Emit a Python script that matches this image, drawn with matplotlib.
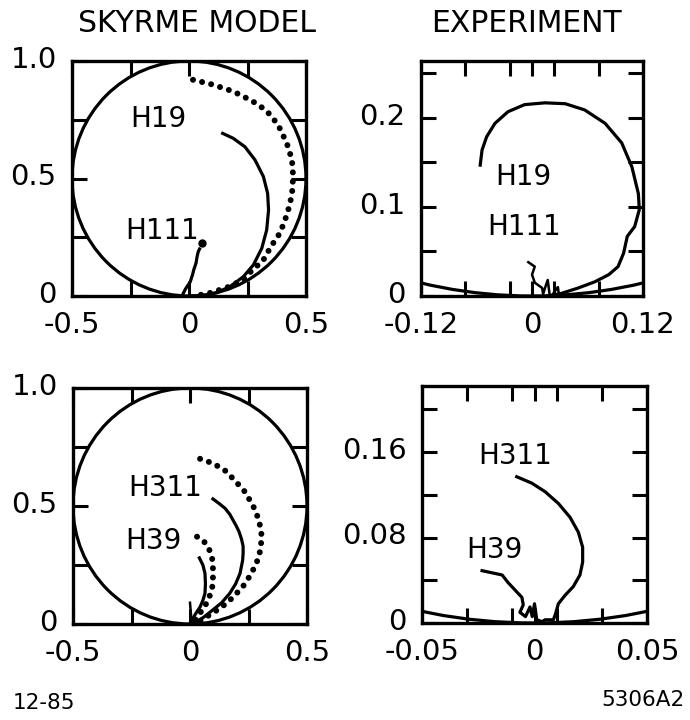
import matplotlib
matplotlib.use("Agg")
import matplotlib.pyplot as plt
from matplotlib.patches import Circle
from matplotlib.transforms import ScaledTranslation

# --- Skyrme model, H19 / H111 (Argand plane) ---
h19_model_x = [0.144, 0.189, 0.239, 0.282, 0.318, 0.336, 0.340, 0.332, 0.311, 0.275,
               0.232, 0.175, 0.118, 0.061, 0.004]
h19_model_y = [0.692, 0.671, 0.635, 0.579, 0.508, 0.437, 0.366, 0.281, 0.203, 0.132,
               0.082, 0.040, 0.014, 0.001, 0.0]
h19_dot_x = [0.017, 0.10, 0.19, 0.27, 0.33, 0.38, 0.418, 0.44, 0.445, 0.44, 0.42, 0.39,
             0.35, 0.316, 0.27, 0.23, 0.16, 0.08, 0.02]
h19_dot_y = [0.92, 0.90, 0.87, 0.83, 0.79, 0.73, 0.65, 0.58, 0.51, 0.43, 0.35, 0.27,
             0.21, 0.15, 0.11, 0.068, 0.035, 0.01, 0.0]
h111_model_x = [-0.03, -0.015, 0.005, 0.015, 0.02, 0.03, 0.035, 0.04, 0.045]
h111_model_y = [0.0, 0.03, 0.06, 0.09, 0.11, 0.14, 0.17, 0.19, 0.20]
h111_end = (0.055, 0.225)

# --- experiment, H19 / H111 ---
h19_exp_x = [-0.056, -0.054, -0.049, -0.040, -0.026, -0.008, 0.014, 0.036, 0.057, 0.079,
             0.097, 0.108, 0.115, 0.116, 0.111, 0.103, 0.099, 0.093, 0.083, 0.068, 0.050,
             0.032, 0.018]
h19_exp_y = [0.147, 0.164, 0.179, 0.194, 0.207, 0.215, 0.217, 0.216, 0.209, 0.194,
             0.172, 0.145, 0.115, 0.097, 0.078, 0.067, 0.048, 0.033, 0.024, 0.016, 0.009,
             0.003, 0.0]
h111_exp_x = [-0.004, 0.003, 0.0, 0.003, 0.011, 0.012, 0.015, 0.017, 0.019, 0.021, 0.028, 0.029]
h111_exp_y = [0.038, 0.033, 0.024, 0.015, 0.009, 0.002, 0.012, 0.018, 0.002, 0.0, 0.01, 0.002]

# --- Skyrme model, H311 / H39 ---
h311_dot_x = [0.043, 0.10, 0.15, 0.19, 0.235, 0.27, 0.295, 0.307, 0.30, 0.285, 0.26, 0.227,
              0.19, 0.158, 0.11, 0.07, 0.03]
h311_dot_y = [0.70, 0.68, 0.65, 0.61, 0.56, 0.50, 0.44, 0.37, 0.31, 0.26, 0.21, 0.16,
              0.12, 0.089, 0.055, 0.03, 0.005]
h311_model_x = [0.098, 0.125, 0.15, 0.17, 0.184, 0.198, 0.21, 0.22, 0.227, 0.227, 0.225,
                0.214, 0.195, 0.17, 0.135, 0.098, 0.06, 0.03, 0.0]
h311_model_y = [0.53, 0.51, 0.49, 0.465, 0.44, 0.415, 0.39, 0.36, 0.33, 0.30, 0.27,
                0.215, 0.17, 0.13, 0.09, 0.06, 0.03, 0.01, 0.0]
h39_dot_x = [0.03, 0.06, 0.085, 0.095, 0.098, 0.098, 0.09, 0.077, 0.06, 0.043, 0.02]
h39_dot_y = [0.37, 0.35, 0.31, 0.275, 0.24, 0.17, 0.135, 0.10, 0.07, 0.047, 0.015]
h39_model_x = [0.04, 0.055, 0.064, 0.066, 0.064, 0.055, 0.043, 0.025, 0.013, 0.0]
h39_model_y = [0.28, 0.25, 0.215, 0.17, 0.13, 0.10, 0.072, 0.045, 0.025, 0.0]
h39_stroke_x = [0.0, 0.005]
h39_stroke_y = [0.09, 0.03]

# --- experiment, H311 / H39 ---
h311_exp_x = [-0.0079, -0.0012, 0.0047, 0.0106, 0.0158, 0.0195, 0.0214, 0.0214, 0.0202,
              0.0172, 0.0136, 0.0106, 0.0094, 0.0084, 0.0047, 0.0024]
h311_exp_y = [0.137, 0.131, 0.123, 0.112, 0.099, 0.085, 0.071, 0.057, 0.045,
              0.034, 0.026, 0.018, 0.009, 0.003, 0.003, 0.0]
h39_exp_x = [-0.0233, -0.0144, -0.0118, -0.0087, -0.0056, -0.005, -0.0065, -0.004, -0.002,
             -0.001, 0.0, 0.001, 0.0024]
h39_exp_y = [0.049, 0.045, 0.038, 0.031, 0.024, 0.017, 0.010, 0.006, 0.015, 0.006, 0.018,
             0.003, 0.002]

# unitarity circles (centre y, radius)
circle_model = (0.5, 0.5)
circle_exp_top = (0.5, 0.5)
circle_exp_bot = (0.12, 0.12)

LW = 2.3
DOTS = dict(lw=4.3, linestyle=(0, (0.01, 1.55)), dash_capstyle="round", color="black")

plt.rcParams["font.family"] = "DejaVu Sans"

fig = plt.figure(figsize=(6.9, 7.2), dpi=100)
ax1 = fig.add_axes([72 / 690, 1 - 296 / 720, 234 / 690, 235 / 720])
ax2 = fig.add_axes([421 / 690, 1 - 296 / 720, 222 / 690, 235 / 720])
ax3 = fig.add_axes([73 / 690, 1 - 624 / 720, 234 / 690, 236 / 720])
ax4 = fig.add_axes([422 / 690, 1 - 623 / 720, 225 / 690, 237 / 720])

lift = ScaledTranslation(0, 3 / 72, fig.dpi_scale_trans)


def style(ax, xlim, ylim, xt, xl, xm, yt, yl, ym):
    ax.set_xlim(xlim)
    ax.set_ylim(ylim)
    ax.set_xticks(xt, xl)
    ax.set_xticks(xm, minor=True)
    ax.set_yticks(yt, yl)
    ax.set_yticks(ym, minor=True)
    ax.tick_params(which="both", direction="in", top=True, right=True,
                   length=11, width=2.2, labelsize=21)
    ax.tick_params(axis="x", pad=11)
    ax.tick_params(axis="y", pad=11)
    for lab in ax.get_yticklabels():
        lab.set_transform(lab.get_transform() + lift)
    for s in ax.spines.values():
        s.set_linewidth(2.4)


def circ(ax, c):
    ax.add_patch(Circle((0, c[0]), c[1], fill=False, lw=LW, color="black"))


LBL = dict(fontsize=20, ha="center", va="center")

# top left
circ(ax1, circle_model)
ax1.plot(h19_model_x, h19_model_y, color="black", lw=LW)
ax1.plot(h19_dot_x, h19_dot_y, **DOTS)
ax1.plot(h111_model_x, h111_model_y, color="black", lw=LW)
ax1.plot(*h111_end, "o", color="black", ms=5)
ax1.text(-0.132, 0.753, "H19", **LBL)
ax1.text(-0.115, 0.277, "H111", **LBL)
style(ax1, (-0.5, 0.5), (0, 1.0), [-0.5, 0, 0.5], ["-0.5", "0", "0.5"], [-0.25, 0.25],
      [0, 0.5, 1.0], ["0", "0.5", "1.0"], [0.25, 0.75])

# top right
circ(ax2, circle_exp_top)
ax2.plot(h19_exp_x, h19_exp_y, color="black", lw=LW)
ax2.plot(h111_exp_x, h111_exp_y, color="black", lw=1.8)
ax2.text(-0.0097, 0.134, "H19", **LBL)
ax2.text(-0.0086, 0.0775, "H111", **LBL)
style(ax2, (-0.12, 0.12), (0, 0.264), [-0.12, 0, 0.12], ["-0.12", "0", "0.12"],
      [-0.072, -0.024, 0.024, 0.072],
      [0, 0.1, 0.2], ["0", "0.1", "0.2"], [0.05, 0.15, 0.25])

# bottom left
circ(ax3, circle_model)
ax3.plot(h311_dot_x, h311_dot_y, **DOTS)
ax3.plot(h311_model_x, h311_model_y, color="black", lw=LW)
ax3.plot(h39_dot_x, h39_dot_y, **DOTS)
ax3.plot(h39_model_x, h39_model_y, color="black", lw=LW)
ax3.plot(h39_stroke_x, h39_stroke_y, color="black", lw=1.8)
ax3.text(-0.107, 0.576, "H311", **LBL)
ax3.text(-0.156, 0.352, "H39", **LBL)
style(ax3, (-0.5, 0.5), (0, 1.0), [-0.5, 0, 0.5], ["-0.5", "0", "0.5"], [-0.25, 0.25],
      [0, 0.5, 1.0], ["0", "0.5", "1.0"], [0.25, 0.75])

# bottom right
circ(ax4, circle_exp_bot)
ax4.plot(h311_exp_x, h311_exp_y, color="black", lw=LW)
ax4.plot(h39_exp_x, h39_exp_y, color="black", lw=LW)
ax4.text(-0.0084, 0.156, "H311", **LBL)
ax4.text(-0.0176, 0.068, "H39", **LBL)
style(ax4, (-0.05, 0.05), (0, 0.222), [-0.05, 0, 0.05], ["-0.05", "0", "0.05"],
      [-0.03, -0.01, 0.01, 0.03],
      [0, 0.08, 0.16], ["0", "0.08", "0.16"], [0.04, 0.12, 0.2])

fig.text(197 / 690, 1 - 24 / 720, "SKYRME MODEL", fontsize=21.5, ha="center", va="center")
fig.text(526 / 690, 1 - 23 / 720, "EXPERIMENT", fontsize=21.5, ha="center", va="center")
fig.text(13 / 690, 1 - 703 / 720, "12-85", fontsize=15.5, ha="left", va="center")
fig.text(685 / 690, 1 - 700 / 720, "5306A2", fontsize=15.5, ha="right", va="center")

fig.savefig("out.png", dpi=100, facecolor="white")
